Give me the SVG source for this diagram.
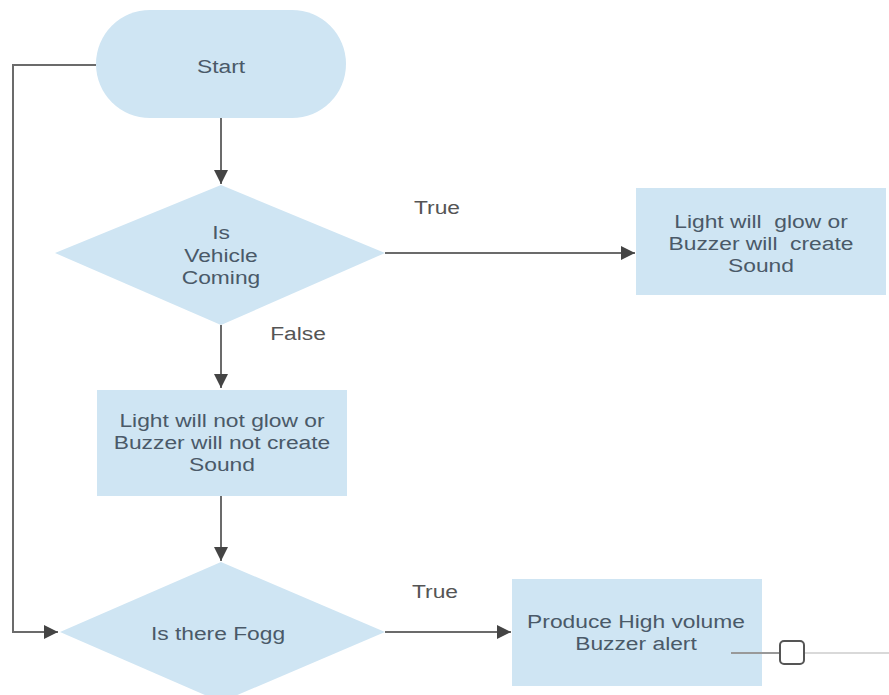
<svg xmlns="http://www.w3.org/2000/svg" width="889" height="695" viewBox="0 0 889 695">
<defs>
<marker id="ah" viewBox="0 0 10 10" refX="10" refY="5" markerWidth="14" markerHeight="14" markerUnits="userSpaceOnUse" orient="auto">
<path d="M0,0 L10,5 L0,10 z" fill="#444"/>
</marker>
<style>
.shape{fill:#cfe5f3;}
.t{font-family:"Liberation Sans",Arial,sans-serif;font-size:19px;fill:#4a5968;text-anchor:middle;white-space:pre;}
.lbl{font-family:"Liberation Sans",Arial,sans-serif;font-size:19px;fill:#555;text-anchor:middle;}
.c{fill:none;stroke:#6b6b6b;stroke-width:2;}
</style>
</defs>
<rect width="889" height="695" fill="#fff"/>
<g id="start">
<rect class="shape" x="96" y="10" width="250" height="108" rx="54"/>
<text class="t" transform="translate(221 73) scale(1.2 1)">Start</text>
</g>
<g id="vehicle">
<polygon class="shape" points="221,185 385,253 221,325 55,253"/>
<text class="t" transform="translate(221 239) scale(1.2 1)">Is</text>
<text class="t" transform="translate(221 262) scale(1.2 1)">Vehicle</text>
<text class="t" transform="translate(221 284) scale(1.2 1)">Coming</text>
</g>
<g id="glow">
<rect class="shape" x="636" y="188" width="250" height="107"/>
<text class="t" xml:space="preserve" transform="translate(761 228) scale(1.2 1)">Light will  glow or</text>
<text class="t" xml:space="preserve" transform="translate(761 250) scale(1.2 1)">Buzzer will  create</text>
<text class="t" transform="translate(761 272) scale(1.2 1)">Sound</text>
</g>
<g id="noglow">
<rect class="shape" x="97" y="390" width="250" height="106"/>
<text class="t" transform="translate(222 427) scale(1.2 1)">Light will not glow or</text>
<text class="t" transform="translate(222 449) scale(1.2 1)">Buzzer will not create</text>
<text class="t" transform="translate(222 471) scale(1.2 1)">Sound</text>
</g>
<g id="fogg">
<polygon class="shape" points="221,562 385,632 221,702 60,632"/>
<text class="t" transform="translate(218 640) scale(1.2 1)">Is there Fogg</text>
</g>
<g id="alert">
<rect class="shape" x="512" y="579" width="250" height="107"/>
<text class="t" transform="translate(636 628) scale(1.2 1)">Produce High volume</text>
<text class="t" transform="translate(636 650) scale(1.2 1)">Buzzer alert</text>
</g>
<g id="connectors">
<polyline class="c" points="96,65 13,65 13,632 58,632" marker-end="url(#ah)"/>
<line class="c" x1="221" y1="118" x2="221" y2="184" marker-end="url(#ah)"/>
<line class="c" x1="385" y1="253" x2="635" y2="253" marker-end="url(#ah)"/>
<line class="c" x1="221" y1="325" x2="221" y2="388" marker-end="url(#ah)"/>
<line class="c" x1="221" y1="496" x2="221" y2="561" marker-end="url(#ah)"/>
<line class="c" x1="385" y1="632" x2="511" y2="632" marker-end="url(#ah)"/>
<line x1="731" y1="653" x2="780" y2="653" stroke="#999" stroke-width="2"/>
<line x1="805" y1="653" x2="889" y2="653" stroke="#ccc" stroke-width="1.5"/>
<rect x="780" y="641" width="24" height="23" rx="4" fill="#fff" stroke="#555" stroke-width="2"/>
<text class="lbl" transform="translate(437 214) scale(1.2 1)">True</text>
<text class="lbl" transform="translate(298 340) scale(1.2 1)">False</text>
<text class="lbl" transform="translate(435 598) scale(1.2 1)">True</text>
</g>
</svg>
